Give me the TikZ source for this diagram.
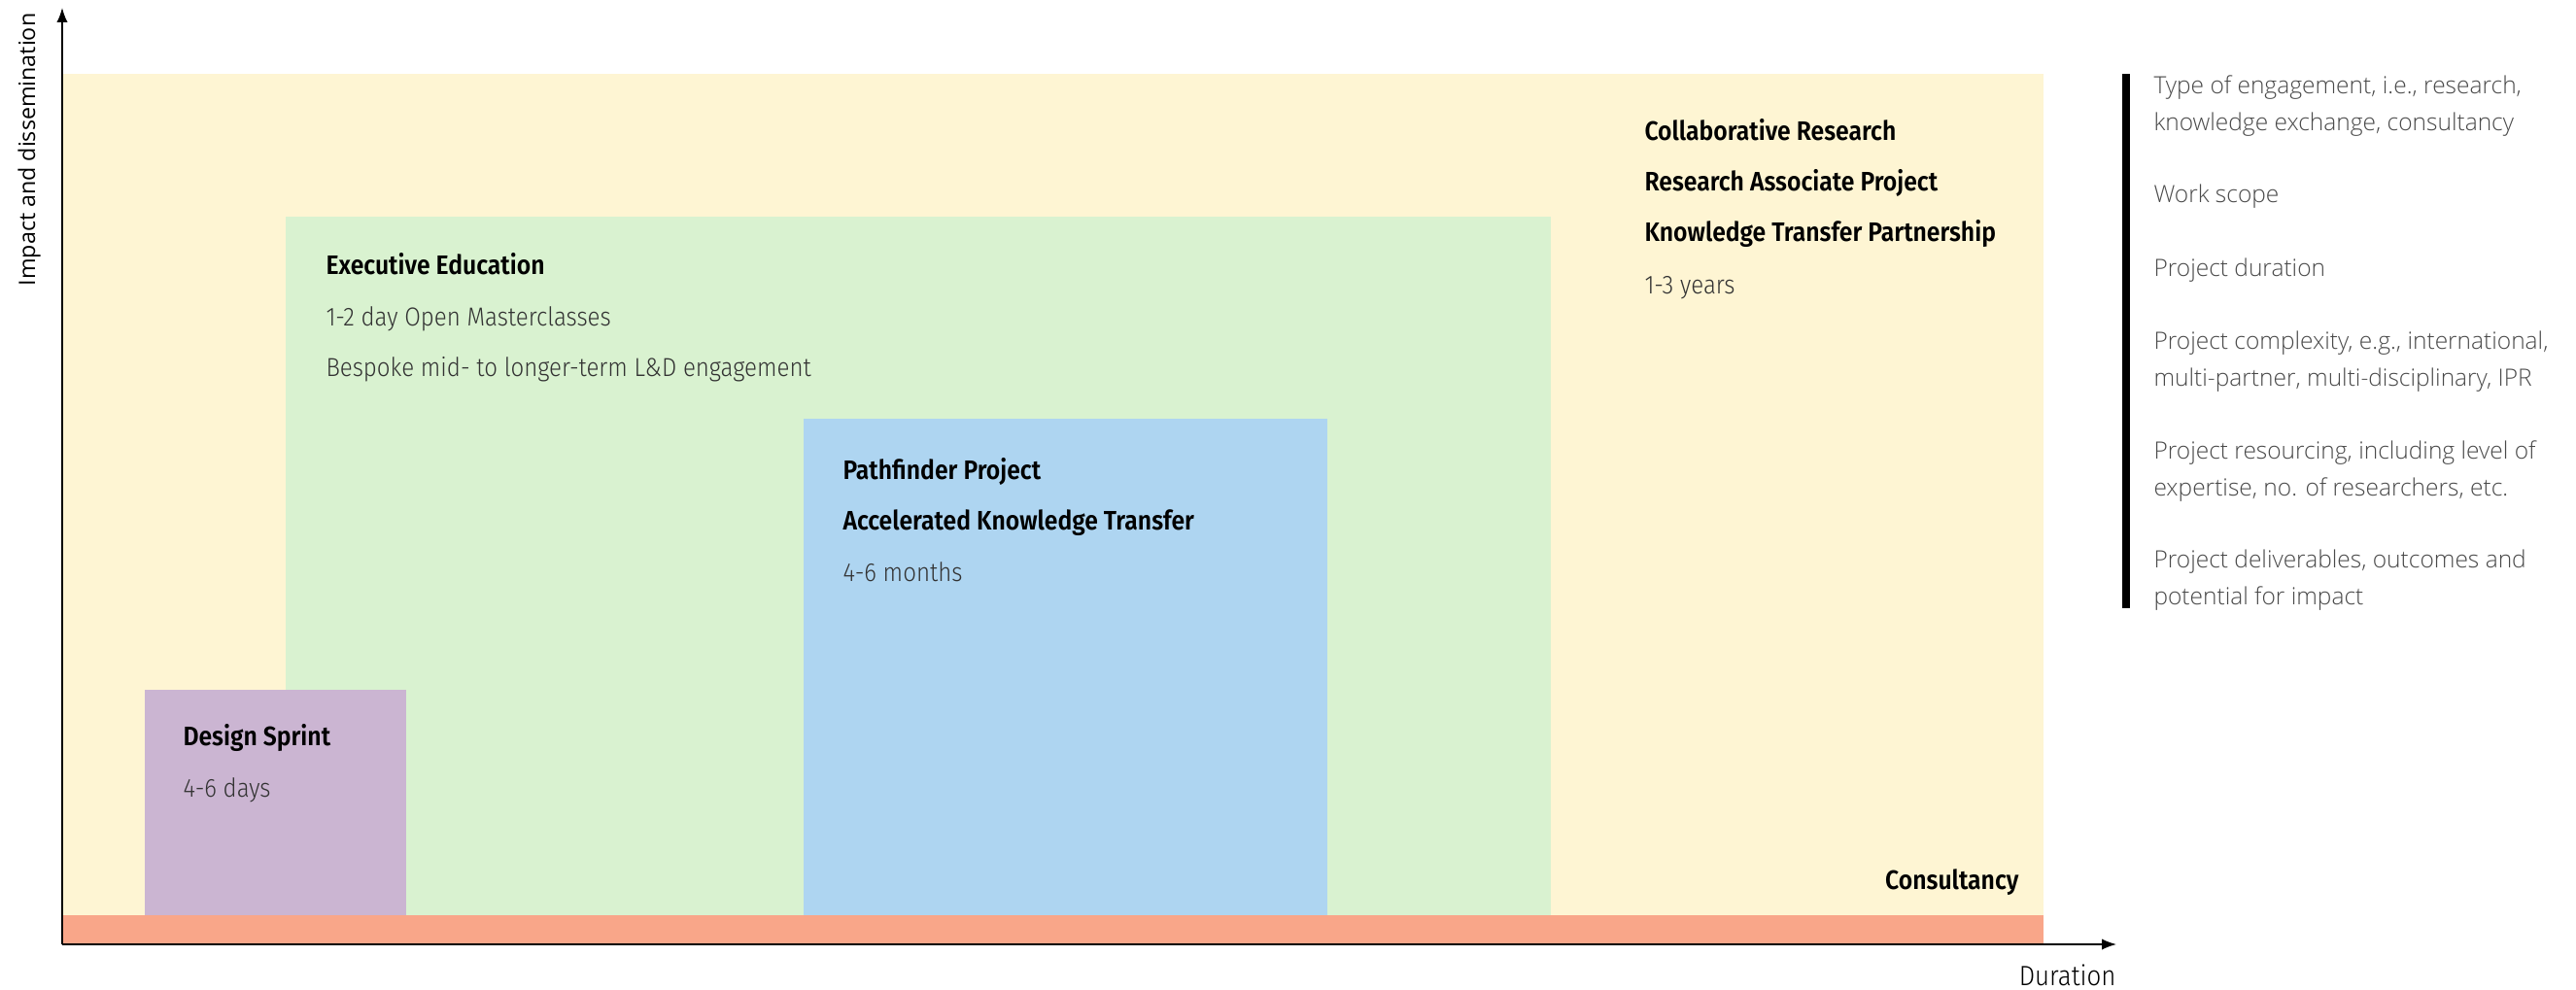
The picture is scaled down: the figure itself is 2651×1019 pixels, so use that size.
\documentclass[tikz,border=0pt]{standalone}
\usepackage{fontspec}
\setmainfont{Fira Sans}[UprightFont={* Light}, BoldFont={* SemiBold}, FakeStretch=0.9]
\newfontfamily\listfont{Open Sans}[UprightFont={* Light}]
\newfontfamily\axisfont{Open Sans}
\usetikzlibrary{arrows.meta}
\definecolor{longterm}{HTML}{FEF5D3}
\definecolor{execed}{HTML}{D9F2D0}
\definecolor{pathfinder}{HTML}{AED5F1}
\definecolor{sprint}{HTML}{CBB5D2}
\definecolor{consult}{HTML}{F9A689}
\definecolor{infogray}{HTML}{333333}
\definecolor{listgray}{HTML}{4A4A4A}

\begin{document}
\begin{tikzpicture}[x=0.4pt, y=-0.4pt,
  title/.style={anchor=base west, inner sep=0pt, font=\fontsize{11}{13}\selectfont\bfseries},
  info/.style={anchor=base west, inner sep=0pt, text=infogray, font=\fontsize{10.7}{12}\selectfont},
  item/.style={anchor=base west, inner sep=0pt, align=left, text=listgray, font=\listfont\fontsize{9.8}{15}\selectfont},
  axis/.style={line width=0.6pt, -{Latex[length=6pt, width=4.5pt]}}]
  \useasboundingbox (0,0) rectangle (2651,1019);

  \fill[longterm] (64,76) rectangle (2103,972);
  \fill[execed] (294,223) rectangle (1596,942);
  \fill[pathfinder] (827,431) rectangle (1366,942);
  \fill[sprint] (149,710) rectangle (418,942);
  \fill[consult] (64,942) rectangle (2103,972);

  \coordinate (o) at (64,972);
  \coordinate (ytip) at (64,8);
  \coordinate (xtip) at (2178,972);
  \draw[axis] (o) -- (ytip);
  \draw[axis] (o) -- (xtip);
  \node[rotate=90, inner sep=0pt, font=\axisfont\fontsize{9.3}{10}\selectfont] (impact) at (30,154) {Impact and dissemination};
  \node[anchor=base east, inner sep=0pt, font=\fontsize{11.5}{13}\selectfont] (duration) at (2178,1014) {Duration};

  \node[title] (collab) at (1692,144) {Collaborative Research};
  \node[title] (rap) at (1692,196) {Research Associate Project};
  \node[title] (ktp) at (1692,248) {Knowledge Transfer Partnership};
  \node[info] (years) at (1692,302) {1-3 years};

  \node[title] (exec) at (335,282) {Executive Education};
  \node[info] (masters) at (335,335) {1-2 day Open Masterclasses};
  \node[info] (bespoke) at (335,387) {Bespoke mid- to longer-term L\&D engagement};

  \node[title] (path) at (867,493) {Pathfinder Project};
  \node[title] (akt) at (867,545) {Accelerated Knowledge Transfer};
  \node[info] (months) at (867,598) {4-6 months};

  \node[title] (design) at (188,767) {Design Sprint};
  \node[info] (days) at (188,820) {4-6 days};

  \node[title, anchor=base east] (consultancy) at (2078,915) {Consultancy};

  % list nodes sit on the baseline of their last line
  \fill (2184,76) rectangle (2192,626);
  \node[item] (type) at (2216,134) {Type of engagement, i.e., research,\\knowledge exchange, consultancy};
  \node[item] (scope) at (2216,209) {Work scope};
  \node[item] (dur) at (2216,284) {Project duration};
  \node[item] (complex) at (2216,397) {Project complexity, e.g., international,\\multi-partner, multi-disciplinary, IPR};
  \node[item] (resource) at (2216,510) {Project resourcing, including level of\\expertise, no. of researchers, etc.};
  \node[item] (deliver) at (2216,622) {Project deliverables, outcomes and\\potential for impact};
\end{tikzpicture}
\end{document}
